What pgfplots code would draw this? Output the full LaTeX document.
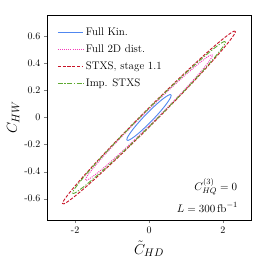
\documentclass[border=0pt]{standalone}
\usepackage{pgfplots}
\pgfplotsset{compat=1.18}
\definecolor{cblue}{RGB}{80,135,240}
\definecolor{cpink}{RGB}{245,60,185}
\definecolor{cred}{RGB}{200,20,40}
\definecolor{cgreen}{RGB}{95,170,50}
\tikzset{
  sblue/.style={draw=cblue, line width=0.9pt, solid},
  spink/.style={draw=cpink, line width=0.9pt, dash pattern=on 1pt off 1.1pt},
  sred/.style={draw=cred, line width=0.9pt, dash pattern=on 3.2pt off 1.6pt},
  sgreen/.style={draw=cgreen, line width=0.9pt, dash pattern=on 5pt off 1.6pt on 1.2pt off 1.6pt},
}
\pgfplotsset{legend image code/.code={\draw[#1] (0cm,0cm) -- (0.9cm,0cm);}}
\begin{document}
\begin{tikzpicture}
\path[use as bounding box] (-47pt,-42pt) rectangle (215pt,220pt);
\begin{axis}[
  at={(0pt,0pt)}, anchor=south west,
  scale only axis, width=204pt, height=205pt,
  xmin=-2.76, xmax=2.76, ymin=-0.757, ymax=0.757,
  tick align=outside, tick pos=left,
  major tick length=3pt,
  xtick={-2,0,2}, xticklabels={{-2},{0},{2}},
  ytick={-0.6,-0.4,-0.2,0,0.2,0.4,0.6},
  yticklabels={{-0.6},{-0.4},{-0.2},{0},{0.2},{0.4},{0.6}},
  tick label style={font=\fontsize{10}{12}\selectfont},
  xlabel={$\tilde{C}_{HD}$}, ylabel={$C_{HW}$},
  label style={font=\fontsize{15}{18}\selectfont},
  xlabel style={yshift=-1pt},
  ylabel style={yshift=-2pt},
  axis line style={line width=0.6pt},
  legend style={draw=none, fill=none, at={(0.045,0.955)}, anchor=north west,
    font=\fontsize{11}{13}\selectfont, row sep=4pt, inner sep=1pt},
  legend cell align=left,
]
\addlegendimage{sblue}
\addlegendentry{Full Kin.}
\addlegendimage{spink}
\addlegendentry{Full 2D dist.}
\addlegendimage{sred}
\addlegendentry{STXS, stage 1.1}
\addlegendimage{sgreen}
\addlegendentry{Imp. STXS}
\addplot[sblue, smooth, forget plot] coordinates {
(0.6,0.163) (0.5909,0.1683) (0.5638,0.1686) (0.5196,0.1637) (0.4596,0.1538) (0.3857,0.1393)
(0.3,0.1205) (0.2052,0.098) (0.1042,0.0726) (0,0.045) (-0.1042,0.016) (-0.2052,-0.0134)
(-0.3,-0.0425) (-0.3857,-0.0703) (-0.4596,-0.096) (-0.5196,-0.1187) (-0.5638,-0.1378) (-0.5909,-0.1527)
(-0.6,-0.163) (-0.5909,-0.1683) (-0.5638,-0.1686) (-0.5196,-0.1637) (-0.4596,-0.1538) (-0.3857,-0.1393)
(-0.3,-0.1205) (-0.2052,-0.098) (-0.1042,-0.0726) (0,-0.045) (0.1042,-0.016) (0.2052,0.0134)
(0.3,0.0425) (0.3857,0.0703) (0.4596,0.096) (0.5196,0.1187) (0.5638,0.1378) (0.5909,0.1527)
(0.6,0.163)};
\addplot[spink, smooth, forget plot] coordinates {
(1.72,0.46) (1.6939,0.4638) (1.6163,0.4535) (1.4895,0.4294) (1.3175,0.3923) (1.1056,0.3432)
(0.86,0.2837) (0.5882,0.2156) (0.2986,0.141) (0,0.062) (-0.2986,-0.0188) (-0.5882,-0.099)
(-0.86,-0.1763) (-1.1056,-0.2482) (-1.3175,-0.3125) (-1.4895,-0.3674) (-1.6163,-0.4111) (-1.6939,-0.4422)
(-1.72,-0.46) (-1.6939,-0.4638) (-1.6163,-0.4535) (-1.4895,-0.4294) (-1.3175,-0.3923) (-1.1056,-0.3432)
(-0.86,-0.2837) (-0.5882,-0.2156) (-0.2986,-0.141) (0,-0.062) (0.2986,0.0188) (0.5882,0.099)
(0.86,0.1763) (1.1056,0.2482) (1.3175,0.3125) (1.4895,0.3674) (1.6163,0.4111) (1.6939,0.4422)
(1.72,0.46)};
\addplot[sred, smooth, forget plot] coordinates {
(2.34,0.635) (2.3044,0.6378) (2.1989,0.6213) (2.0264,0.5859) (1.7924,0.5327) (1.5042,0.4634)
(1.17,0.3799) (0.8003,0.2849) (0.4062,0.1811) (0,0.072) (-0.4062,-0.0393) (-0.8003,-0.1495)
(-1.17,-0.2551) (-1.5042,-0.353) (-1.7924,-0.4401) (-2.0264,-0.5139) (-2.1989,-0.5721) (-2.3044,-0.6128)
(-2.34,-0.635) (-2.3044,-0.6378) (-2.1989,-0.6213) (-2.0264,-0.5859) (-1.7924,-0.5327) (-1.5042,-0.4634)
(-1.17,-0.3799) (-0.8003,-0.2849) (-0.4062,-0.1811) (0,-0.072) (0.4062,0.0393) (0.8003,0.1495)
(1.17,0.2551) (1.5042,0.353) (1.7924,0.4401) (2.0264,0.5139) (2.1989,0.5721) (2.3044,0.6128)
(2.34,0.635)};
\addplot[sgreen, smooth, forget plot] coordinates {
(2.07,0.558) (2.0385,0.5613) (1.9452,0.5477) (1.7926,0.5172) (1.5856,0.4711) (1.3306,0.4108)
(1.035,0.3379) (0.7079,0.2547) (0.3594,0.1639) (0,0.068) (-0.3594,-0.0299) (-0.7079,-0.1269)
(-1.035,-0.2201) (-1.3306,-0.3066) (-1.5856,-0.3837) (-1.7926,-0.4492) (-1.9452,-0.5011) (-2.0385,-0.5377)
(-2.07,-0.558) (-2.0385,-0.5613) (-1.9452,-0.5477) (-1.7926,-0.5172) (-1.5856,-0.4711) (-1.3306,-0.4108)
(-1.035,-0.3379) (-0.7079,-0.2547) (-0.3594,-0.1639) (0,-0.068) (0.3594,0.0299) (0.7079,0.1269)
(1.035,0.2201) (1.3306,0.3066) (1.5856,0.3837) (1.7926,0.4492) (1.9452,0.5011) (2.0385,0.5377)
(2.07,0.558)};
\node[anchor=east, font=\fontsize{11}{13}\selectfont] at (axis cs:2.48,-0.51) {$C^{(3)}_{HQ} = 0$};
\node[anchor=east, font=\fontsize{11}{13}\selectfont] at (axis cs:2.5,-0.665) {$L = 300\,\mathrm{fb}^{-1}$};
\end{axis}
\end{tikzpicture}
\end{document}
